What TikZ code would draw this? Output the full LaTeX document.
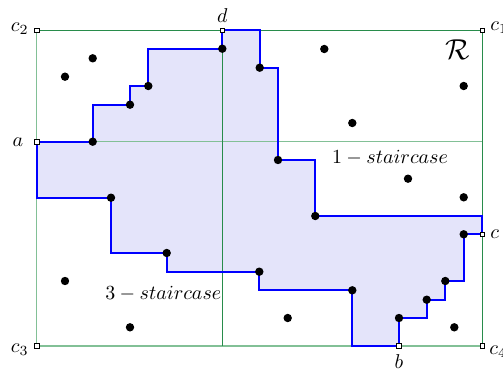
\documentclass[tikz,border=0pt]{standalone}
\definecolor{lavfill}{RGB}{228,228,250}
\definecolor{gdark}{RGB}{40,140,75}
\definecolor{glight}{RGB}{130,192,150}
\tikzset{
 dot/.style={circle,fill=black,inner sep=0pt,minimum size=4.2pt},
 cornerbox/.style={rectangle,draw=black,fill=white,inner sep=0pt,minimum size=2.4pt,line width=0.35pt},
 stair/.style={draw=blue,line width=1pt,line join=miter},
 gdarkline/.style={draw=gdark,line width=0.5pt},
 glightline/.style={draw=glight,line width=0.6pt},
 lbl/.style={inner sep=1pt,font=\fontsize{10.4}{12}\selectfont}
}
\begin{document}
\begin{tikzpicture}[x=0.5pt,y=-0.5pt]
\useasboundingbox (0,0) rectangle (503,374);
% corner coordinates
\coordinate (C2) at (36.7,30.3);
\coordinate (C1) at (482.3,30.3);
\coordinate (C3) at (36.7,346);
\coordinate (C4) at (482.3,346);
\coordinate (A) at (36.7,141.7);
\coordinate (AR) at (482.3,141.7);
\coordinate (D) at (222.3,30.3);
\coordinate (DB) at (222.3,346);
\coordinate (C) at (482.3,234.3);
\coordinate (B) at (399,346);
% staircase region fill
\fill[lavfill] (A) -| (92.7,141.7) |- (130,104.7) |- (148.3,86) |- (222.3,48.7) -- (D)
 -| (259.7,67.7) -| (278,160) -| (315.3,216) -| (C)
 -| (463.7,281) -| (445.3,299.7) -| (426.7,318) -| (B)
 -| (352.3,290.3) -| (259.3,271.7) -| (166.7,253) -| (111,197.7) -| cycle;
% green frame and cross lines
\draw[glightline] (C2) -- (C3) -- (C4);
\draw[glightline] (A) -- (AR);
\draw[gdarkline] (C2) -- (C1) -- (C4);
\draw[gdarkline] (D) -- (DB);
% staircase outline
\draw[stair] (A) -- (92.7,141.7) |- (130,104.7) |- (148.3,86) |- (222.3,48.7) -- (D)
 -| (259.7,67.7) -| (278,160) -| (315.3,216) -| (482.3,216) -- (C)
 -| (463.7,281) -| (445.3,299.7) -| (426.7,318) -- (399,318) -- (B)
 -| (352.3,290.3) -| (259.3,271.7) -| (166.7,253) -| (111,197.7) -| cycle;
% staircase points
\foreach \n/\x/\y in {s1/92.7/141.7, s2/130/104.7, s3/148.3/86, s4/222.3/48.7,
  s5/259.7/67.7, s6/278/160, s7/315.3/216, s8/463.7/234.3, s9/445.3/281,
  s10/426.7/299.7, s11/399/318, s12/352.3/290.3, s13/259.3/271.7,
  s14/166.7/253, s15/111/197.7}
  \node[dot] (\n) at (\x,\y) {};
% other points
\foreach \n/\x/\y in {p1/65/76.7, p2/92.7/58.3, p3/324.3/49, p4/463.7/86,
  p5/352.3/123, p6/408/178.7, p7/463.7/197.3, p8/287.7/318, p9/454.3/327.3,
  p10/65/281, p11/130/327.3}
  \node[dot] (\n) at (\x,\y) {};
% corner markers
\foreach \n/\p in {mc2/C2, mc1/C1, mc3/C3, mc4/C4, ma/A, md/D, mc/C, mb/B}
  \node[cornerbox] (\n) at (\p) {};
% labels
\node[lbl,anchor=east] (lc2) at (31,29) {$c_2$};
\node[lbl,anchor=west] (lc1) at (488,28) {$c_1$};
\node[lbl,anchor=east] (lc3) at (31,350) {$c_3$};
\node[lbl,anchor=west] (lc4) at (487,352) {$c_4$};
\node[lbl] (la) at (18,142) {$a$};
\node[lbl] (ld) at (222.3,16) {$d$};
\node[lbl] (lb) at (399,362) {$b$};
\node[lbl,anchor=west] (lc) at (488,234.3) {$c$};
\node[lbl] (lR) at (457.5,50) {\Large$\mathcal{R}$};
\node[lbl] (l1) at (390,158) {$1-staircase$};
\node[lbl] (l3) at (163.3,294) {$3-staircase$};
\end{tikzpicture}
\end{document}
